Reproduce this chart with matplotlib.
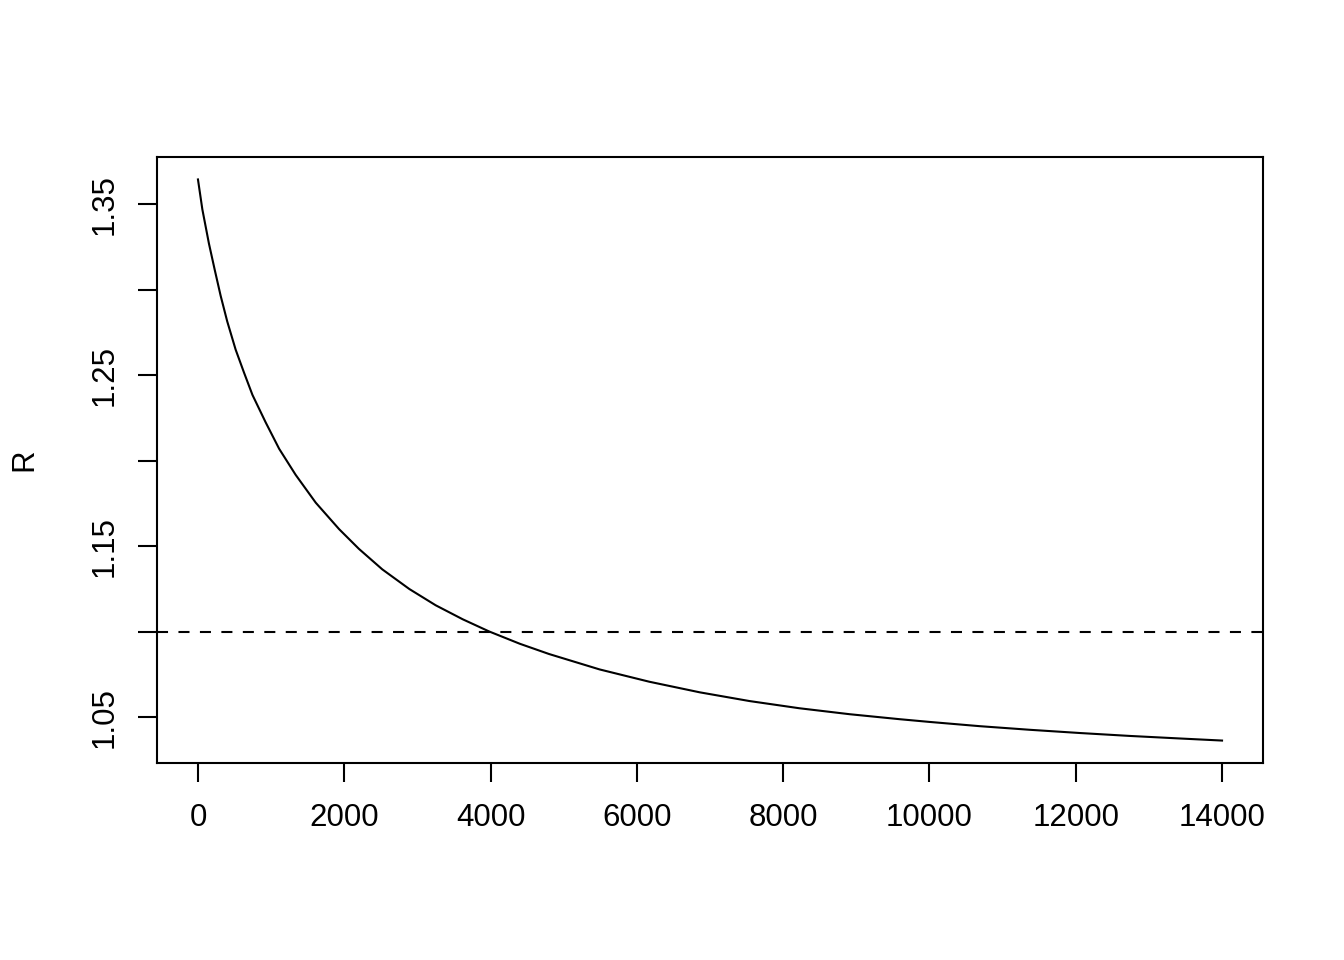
import matplotlib
matplotlib.use("Agg")
import matplotlib.pyplot as plt

# valores
n_iter = [0, 60, 150, 230, 310, 400, 515, 630, 745, 925, 1110, 1335, 1610,
          1930, 2200, 2520, 2890, 3250, 3620, 3980, 4400, 4800, 5490, 6170,
          6860, 7540, 8220, 8910, 9590, 10000, 10690, 11370, 12060, 12740,
          13430, 14000]
R_vals = [1.3645, 1.3470, 1.3270, 1.3115, 1.2965, 1.2815, 1.2650, 1.2515,
          1.2385, 1.2225, 1.2070, 1.1918, 1.1755, 1.1600, 1.1485, 1.1365,
          1.1250, 1.1155, 1.1073, 1.1002, 1.0930, 1.0870, 1.0780, 1.0708,
          1.0646, 1.0595, 1.0553, 1.0518, 1.0489, 1.0473, 1.0448, 1.0427,
          1.0408, 1.0391, 1.0376, 1.0364]
umbral = 1.1

x_ticks = [0, 2000, 4000, 6000, 8000, 10000, 12000, 14000]
y_ticks = [1.05, 1.10, 1.15, 1.20, 1.25, 1.30, 1.35]
y_labels = ["1.05", "", "1.15", "", "1.25", "", "1.35"]

plt.rcParams['font.family'] = ['Liberation Sans', 'DejaVu Sans']

fig = plt.figure(figsize=(13.44, 9.6), dpi=100)
ax = fig.add_axes([157/1344, 1-763/960, 1106/1344, 606/960])

ax.plot(n_iter, R_vals, color='black', lw=1.5)
ax.axhline(umbral, color='black', lw=1.5, linestyle=(0, (5.3, 5.0)))

# rango estilo R (4% extra)
xr = max(n_iter) - min(n_iter)
yr = max(R_vals) - min(R_vals)
ax.set_xlim(min(n_iter) - 0.04*xr, max(n_iter) + 0.04*xr)
ax.set_ylim(min(R_vals) - 0.04*yr, max(R_vals) + 0.04*yr)

ax.set_xticks(x_ticks)
ax.set_xticklabels([str(t) for t in x_ticks])
ax.set_yticks(y_ticks)
ax.set_yticklabels(y_labels, rotation=90, va='center')

ax.tick_params(axis='both', length=13.7, width=1.5, labelsize=22.5, direction='out')
ax.tick_params(axis='x', pad=15)
ax.tick_params(axis='y', pad=13)
for s in ax.spines.values():
    s.set_linewidth(1.5)

ax.set_ylabel('R', fontsize=22.5)
ax.yaxis.set_label_coords(-0.106, 0.5)

plt.savefig("out.png", dpi=100)
